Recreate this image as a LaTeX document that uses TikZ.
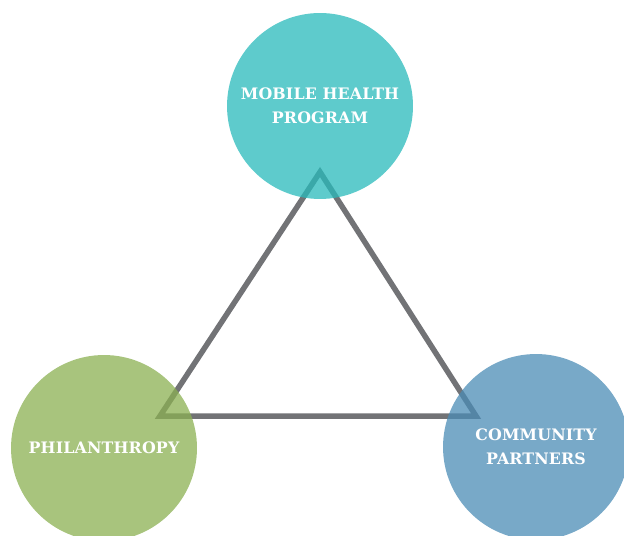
\documentclass[tikz,border=0pt]{standalone}
\usepackage{fontspec}
\newfontfamily\hubfont[LetterSpace=1]{DejaVu Serif}
\definecolor{hubteal}{RGB}{40,186,187}
\definecolor{hubgreen}{RGB}{139,176,82}
\definecolor{hubblue}{RGB}{75,140,182}
\definecolor{linkgray}{RGB}{114,115,118}
\tikzset{
  hub/.style={circle, minimum size=3.72cm, inner sep=0pt, fill opacity=0.75,
    text opacity=1, text=white, align=center,
    font=\hubfont\bfseries\fontsize{9}{13.5}\selectfont},
  link/.style={draw=linkgray, line width=0.11cm, line join=miter}
}
\begin{document}
\begin{tikzpicture}[x=0.02cm, y=-0.02cm]
  \useasboundingbox (0,0) rectangle (624,536);
  \coordinate (apex) at (320,172);
  \coordinate (left) at (160,416);
  \coordinate (right) at (476,416);
  \draw[link] (apex) -- (left) -- (right) -- cycle;
  \node[hub, fill=hubteal] (mobile) at (320,106) {MOBILE HEALTH\\PROGRAM};
  \node[hub, fill=hubgreen] (phil) at (104,448) {PHILANTHROPY};
  \node[hub, fill=hubblue] (comm) at (536,447) {COMMUNITY\\PARTNERS};
\end{tikzpicture}
\end{document}
